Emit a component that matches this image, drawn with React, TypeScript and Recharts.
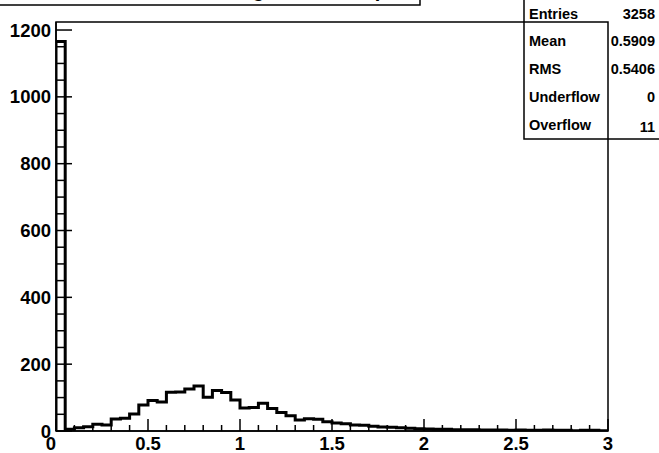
import { LineChart, Line, XAxis, YAxis, ReferenceArea } from "recharts";

// bin contents, 60 bins of width 0.05 from 0 to 3
const counts = [
  1166, 5, 10, 13, 20, 18, 36, 38, 51, 78, 91, 87, 116, 117, 126, 135, 101, 121, 115, 93,
  69, 70, 83, 67, 55, 46, 33, 37, 35, 28, 24, 22, 18, 17, 14, 12, 11, 10, 8, 7,
  6, 5, 5, 4, 4, 4, 3, 3, 3, 2, 3, 2, 2, 3, 2, 2, 1, 2, 2, 1,
];
const BIN_WIDTH = 0.05;
const X_MIN = 0;
const X_MAX = 3;
const Y_MAX = 1224;

const xMajor = [0, 0.5, 1, 1.5, 2, 2.5, 3];
const yMajor = [0, 200, 400, 600, 800, 1000, 1200];

const statsLabels = ["Entries", "Mean", "RMS", "Underflow", "Overflow"];
const statsValues = ["3258", "0.5909", "0.5406", "0", "11"];

// title sits mostly above the page, only its bottom edge shows
const TITLE = "Cosine of angle to beam, p";

const xTicks = Array.from({ length: 31 }, (_, i) => i / 10);
const yTicks = Array.from({ length: 25 }, (_, i) => i * 50);

const data = [
  { x: X_MIN, y: 0 },
  ...counts.map((c, i) => ({ x: i * BIN_WIDTH, y: c })),
  { x: X_MAX, y: counts[counts.length - 1] },
  { x: X_MAX, y: 0 },
];

const FONT = '"Liberation Sans", Arial, Helvetica, sans-serif';

const isMajor = (v: number, list: number[]) => list.some((m) => Math.abs(m - v) < 1e-9);

function XTick(props: any) {
  const { x, y, payload } = props;
  const major = isMajor(payload.value, xMajor);
  return (
    <g>
      <line x1={x} x2={x} y1={y} y2={y - (major ? 12 : 6)} stroke="#000" strokeWidth={1.5} />
      {major && (
        <text x={payload.value === 0 ? x - 5 : x} y={y + 19} textAnchor="middle" fontFamily={FONT} fontWeight="bold" fontSize={18.5} fill="#000">
          {payload.value}
        </text>
      )}
    </g>
  );
}

function YTick(props: any) {
  const { x, y, payload } = props;
  const major = isMajor(payload.value, yMajor);
  return (
    <g>
      <line x1={x} x2={x + (major ? 16 : 9)} y1={y} y2={y} stroke="#000" strokeWidth={1.5} />
      {major && (
        <text x={x - 5} y={y + 6.5} textAnchor="end" fontFamily={FONT} fontWeight="bold" fontSize={18.5} fill="#000">
          {payload.value}
        </text>
      )}
    </g>
  );
}

export default function App() {
  return (
    <div style={{ position: "absolute", left: 0, top: 0, width: 659, height: 453, background: "#fff", overflow: "hidden" }}>
      <svg width={659} height={453} style={{ position: "absolute", left: 0, top: 0 }}>
        <rect x={-2} y={-30} width={422} height={35} fill="#fff" stroke="#000" strokeWidth={1.5} />
        <text x={387} y={-3} textAnchor="end" fontFamily={FONT} fontWeight="bold" fontSize={20} fill="#000">
          {TITLE}
        </text>
        <rect x={524} y={-5} width={140} height={144} fill="#fff" stroke="#000" strokeWidth={1.5} />
        {statsLabels.map((label, i) => (
          <g key={label}>
            <text x={529} y={18.5 + i * 27.8} fontFamily={FONT} fontWeight="bold" fontSize={14.5} fill="#000">
              {label}
            </text>
            <text x={655} y={18.5 + i * 27.8 + (i === 4 ? 2 : 0)} textAnchor="end" fontFamily={FONT} fontWeight="bold" fontSize={14.5} fill="#000">
              {statsValues[i]}
            </text>
          </g>
        ))}
      </svg>
      <div style={{ position: "absolute", left: 0, top: 0 }}>
        <LineChart width={659} height={453} data={data} margin={{ top: 22, right: 51, bottom: 0, left: 0 }}>
          <XAxis
            dataKey="x"
            type="number"
            domain={[X_MIN, X_MAX]}
            ticks={xTicks}
            interval={0}
            tickSize={0}
            tickMargin={0}
            tickLine={false}
            axisLine={{ stroke: "#000", strokeWidth: 1.5 }}
            tick={XTick}
            height={22}
            allowDataOverflow
          />
          <YAxis
            type="number"
            domain={[0, Y_MAX]}
            ticks={yTicks}
            interval={0}
            tickSize={0}
            tickMargin={0}
            tickLine={false}
            axisLine={{ stroke: "#000", strokeWidth: 1.5 }}
            tick={YTick}
            width={56}
            allowDataOverflow
          />
          <ReferenceArea x1={X_MIN} x2={X_MAX} y1={0} y2={Y_MAX} fill="none" fillOpacity={0} stroke="#000" strokeWidth={1.5} ifOverflow="visible" />
          <Line
            type="stepAfter"
            dataKey="y"
            stroke="#000"
            strokeWidth={3}
            dot={false}
            isAnimationActive={false}
            strokeLinejoin="miter"
            strokeLinecap="square"
          />
        </LineChart>
      </div>
    </div>
  );
}
